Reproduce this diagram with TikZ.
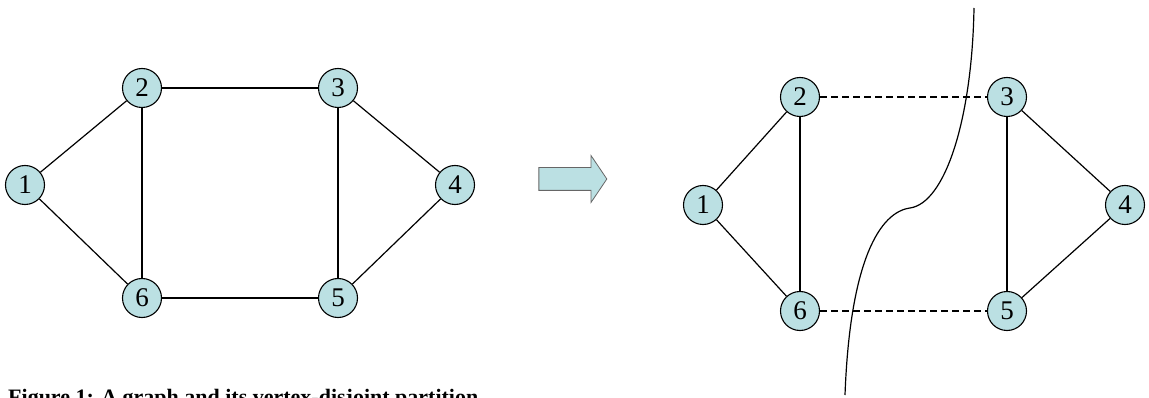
\documentclass[tikz,border=0pt]{standalone}
\usepackage{fontspec}
\setmainfont{Liberation Serif}
\usetikzlibrary{shapes.arrows}
\definecolor{nodecyan}{RGB}{187,224,227}

\begin{document}
\begin{tikzpicture}[x=1pt, y=-1pt,
          vert/.style={circle, draw=black, line width=1.1pt, fill=nodecyan,
              minimum size=39pt, inner sep=0pt, font=\fontsize{27}{27}\selectfont},
          edge/.style={line width=1.2pt},
          cutedge/.style={line width=1.8pt, dash pattern=on 7pt off 4pt}
        ]
        \useasboundingbox (0,0) rectangle (1149,398);
        % left graph
        \node[vert] (l1) at (25,185)  {1};
        \node[vert] (l2) at (142,88)  {2};
        \node[vert] (l3) at (338,88)  {3};
        \node[vert] (l4) at (455,185) {4};
        \node[vert] (l5) at (338,298) {5};
        \node[vert] (l6) at (142,298) {6};
        \draw[edge] (l1) -- (l2);
        \draw[edge] (l1) -- (l6);
        \draw[edge] (l2) -- (l6);
        \draw[edge] (l2) -- (l3);
        \draw[edge] (l6) -- (l5);
        \draw[edge] (l3) -- (l5);
        \draw[edge] (l3) -- (l4);
        \draw[edge] (l5) -- (l4);
        % block arrow
        \node[single arrow, draw=gray!80!black, fill=nodecyan, line width=0.8pt,
              inner xsep=0pt, inner ysep=11pt, minimum height=68pt,
              single arrow head extend=12pt, single arrow tip angle=112] (arrow) at (569,179) {};
        % right graph
        \node[vert] (r1) at (703,205)  {1};
        \node[vert] (r2) at (800,97)   {2};
        \node[vert] (r3) at (1007,97)  {3};
        \node[vert] (r4) at (1125,205) {4};
        \node[vert] (r5) at (1007,311) {5};
        \node[vert] (r6) at (800,311)  {6};
        \draw[edge] (r1) -- (r2);
        \draw[edge] (r1) -- (r6);
        \draw[edge] (r2) -- (r6);
        \draw[edge] (r3) -- (r5);
        \draw[edge] (r3) -- (r4);
        \draw[edge] (r5) -- (r4);
        \draw[cutedge] (r2) -- (r3);
        \draw[cutedge] (r6) -- (r5);
        % cut line
        \coordinate (cuttop) at (974,8);
        \coordinate (cutmid) at (910,208);
        \coordinate (cutbot) at (845,395);
        \draw[line width=1.2pt] (cuttop) .. controls (972,120) and (945,203) .. (cutmid)
            .. controls (880,212) and (850,260) .. (cutbot);
        % caption
        \node[anchor=base west, inner sep=0pt, font=\fontsize{22}{22}\selectfont\bfseries]
            (caption) at (8,404) {Figure 1: A graph and its vertex-disjoint partition};
      \end{tikzpicture}
\end{document}
